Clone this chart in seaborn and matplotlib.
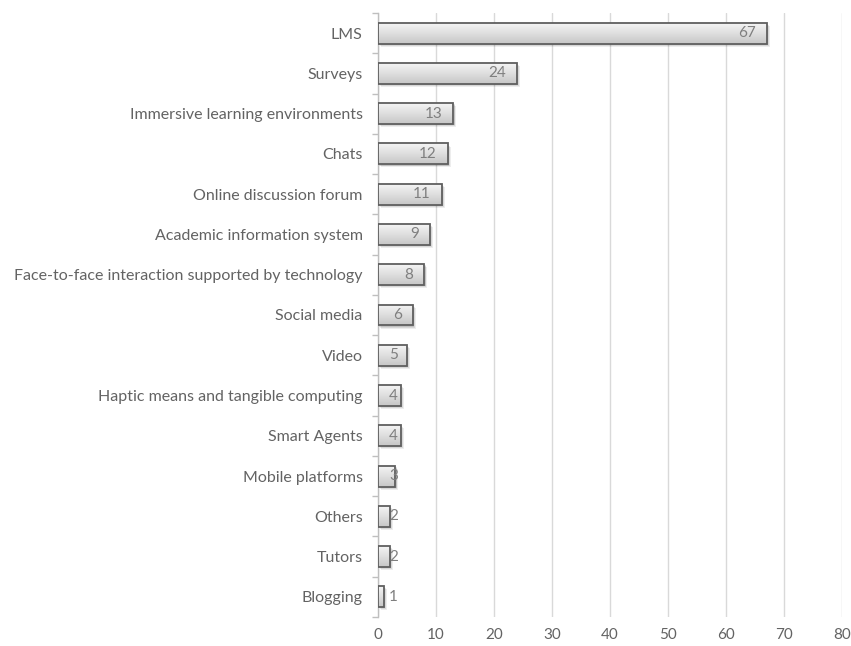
import numpy as np
import pandas as pd
import matplotlib
matplotlib.use("Agg")
import matplotlib.pyplot as plt
import matplotlib.patheffects as pe
from matplotlib.patches import Rectangle
from matplotlib.colors import LinearSegmentedColormap
import seaborn as sns

categories = [
    "LMS", "Surveys", "Immersive learning environments", "Chats",
    "Online discussion forum", "Academic information system",
    "Face-to-face interaction supported by technology", "Social media",
    "Video", "Haptic means and tangible computing", "Smart Agents",
    "Mobile platforms", "Others", "Tutors", "Blogging",
]
counts = [67, 24, 13, 12, 11, 9, 8, 6, 5, 4, 4, 3, 2, 2, 1]
x_ticks = [0, 10, 20, 30, 40, 50, 60, 70, 80]

df = pd.DataFrame({"tool": categories, "count": counts})

sns.set_theme(style="white")
plt.rcParams["font.family"] = ["Lato", "DejaVu Sans"]

fig = plt.figure(figsize=(8.51, 6.46), dpi=100)
ax = fig.add_axes([378 / 851, 1 - 617 / 646, 464 / 851, 604 / 646])

sns.barplot(data=df, x="count", y="tool", orient="h", color="#d9d9d9",
            width=0.52, ax=ax, saturation=1)

grad_cmap = LinearSegmentedColormap.from_list(
    "bar_grad", [(0.0, "#f4f4f4"), (0.55, "#dcdcdc"), (1.0, "#c6c6c6")])
grad = np.linspace(0, 1, 64).reshape(-1, 1)

for p in list(ax.patches):
    x0, y0 = p.get_x(), p.get_y()
    w, h = p.get_width(), p.get_height()
    p.set_edgecolor("none")
    p.set_zorder(2)
    p.set_path_effects([
        pe.SimplePatchShadow(offset=(2.2, -2.2), shadow_rgbFace="#000000", alpha=0.07),
        pe.SimplePatchShadow(offset=(1.5, -1.5), shadow_rgbFace="#000000", alpha=0.09),
        pe.SimplePatchShadow(offset=(0.8, -0.8), shadow_rgbFace="#000000", alpha=0.10),
        pe.Normal(),
    ])
    im = ax.imshow(grad, cmap=grad_cmap, aspect="auto", interpolation="bilinear",
                   extent=(x0, x0 + w, y0 + h, y0), zorder=3)
    im.set_clip_path(p)
    ax.add_patch(Rectangle((x0, y0), w, h, facecolor="none",
                           edgecolor="#5f5f5f", linewidth=1.3, zorder=4))

# value labels at the inner end of each bar
for i, v in enumerate(counts):
    xr = max(v - 1.9, 3.45)
    ax.text(xr, i, str(v), ha="right", va="center", fontsize=11,
            color="#7f7f7f", zorder=5)

ax.set_xlim(0, 80)
ax.set_ylim(len(categories) - 0.5, -0.5)
ax.set_xticks(x_ticks)
ax.set_xlabel("")
ax.set_ylabel("")

ax.grid(axis="x", color="#d9d9d9", linewidth=1)
ax.grid(axis="y", visible=False)
ax.set_axisbelow(True)

for side in ("top", "right", "bottom"):
    ax.spines[side].set_visible(False)
ax.spines["left"].set_color("#bfbfbf")
ax.spines["left"].set_linewidth(1)
ax.spines["left"].set_zorder(1)

ax.set_yticks(np.arange(-0.5, len(categories), 1), minor=True)
ax.tick_params(axis="y", which="minor", length=4, width=1, color="#bfbfbf",
               direction="out", left=True)
ax.tick_params(axis="y", which="major", length=0, pad=11, labelsize=11.5,
               labelcolor="#636363")
ax.tick_params(axis="x", which="major", length=0, pad=8, labelsize=11,
               labelcolor="#636363")

fig.savefig("out.png", dpi=100)
